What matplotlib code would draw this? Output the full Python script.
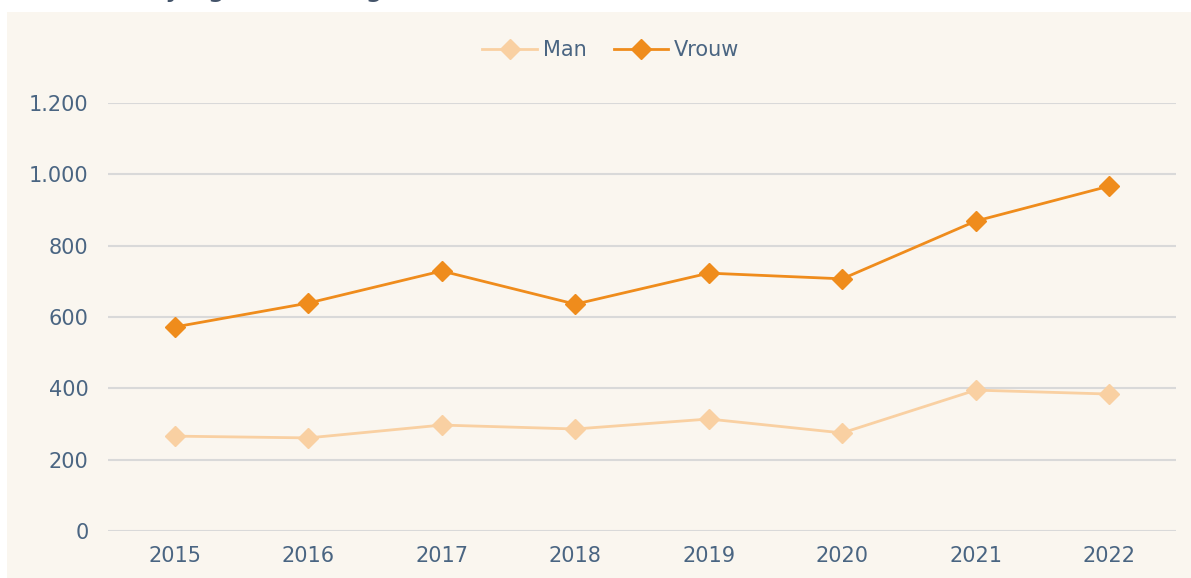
import matplotlib
matplotlib.use("Agg")
import matplotlib.pyplot as plt
from matplotlib.patches import Rectangle

years = ["2015", "2016", "2017", "2018", "2019", "2020", "2021", "2022"]
man = [266, 261, 297, 286, 314, 275, 395, 384]
vrouw = [572, 639, 729, 636, 723, 707, 869, 967]
y_ticks = [0, 200, 400, 600, 800, 1000, 1200]
y_labels = ["0", "200", "400", "600", "800", "1.000", "1.200"]

BG = "#FAF6EF"
TEXT = "#4A6582"
GRID = "#D9D9D9"
C_MAN = "#F9D0A2"
C_VROUW = "#EF8C1C"

W, H = 1191, 578
fig = plt.figure(figsize=(W / 100, H / 100), dpi=100, facecolor="white")

# cream panel behind the chart
fig.patches.append(Rectangle((7 / W, 0), 1 - 7 / W, 1 - 12 / H,
                             transform=fig.transFigure, facecolor=BG,
                             edgecolor="none", zorder=-5))

# heading above the panel, mostly cut off by the top edge
fig.text(77 / W, 1 + 2.5 / H, "Aantal jongeren, naar geslacht (in aantallen)",
         fontsize=16.5, fontweight="bold", color="#44546A", va="baseline", ha="left")

ax = fig.add_axes([108 / W, 47 / H, (1176 - 108) / W, (531 - 103) / H])
ax.set_facecolor("none")

x = list(range(len(years)))
ax.plot(x, man, color=C_MAN, lw=2, marker="D", markersize=10.5, label="Man", zorder=3)
ax.plot(x, vrouw, color=C_VROUW, lw=2, marker="D", markersize=10.5, label="Vrouw", zorder=3)

ax.set_xlim(-0.5, len(years) - 0.5)
ax.set_ylim(0, 1200)
ax.set_xticks(x)
ax.set_xticklabels(years)
ax.set_yticks(y_ticks)
ax.set_yticklabels(y_labels)
ax.tick_params(axis="both", length=0, labelsize=15, labelcolor=TEXT)
ax.tick_params(axis="x", pad=11)
ax.tick_params(axis="y", pad=14)
ax.grid(True, axis="y", color=GRID, lw=1.5)
ax.set_axisbelow(True)
for s in ax.spines.values():
    s.set_visible(False)

leg = ax.legend(loc="center", bbox_to_anchor=((611 - 108) / (1176 - 108), (578 - 50 - 47) / (531 - 103)),
                ncol=2, frameon=False, fontsize=15, handlelength=2.6,
                columnspacing=1.3, handletextpad=0.3, markerscale=1.0)
for t in leg.get_texts():
    t.set_color(TEXT)

fig.savefig("out.png", dpi=100)
